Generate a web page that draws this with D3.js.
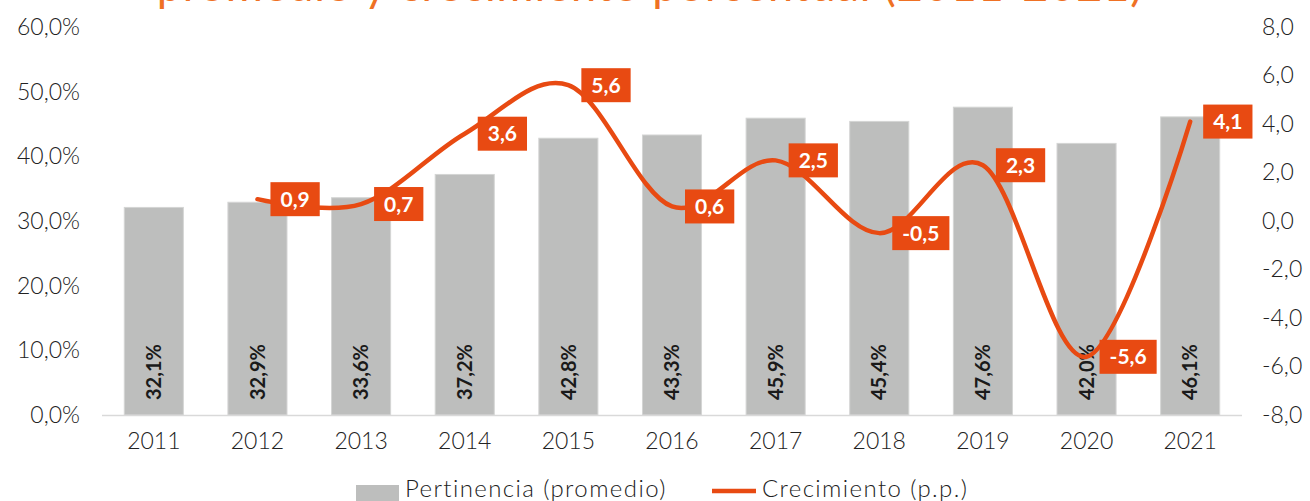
<!DOCTYPE html>
<html>
<head>
<meta charset="utf-8">
<script src="https://cdn.jsdelivr.net/npm/d3@7"></script>
<style>
  html, body { margin: 0; padding: 0; background: #fff; }
  svg { display: block; font-family: Lato, "Noto Sans", sans-serif; }
</style>
</head>
<body>
<svg id="chart" width="1310" height="501"></svg>
<script>
const titleText = "promedio y crecimiento porcentual (2011-2021)";
const years = ["2011","2012","2013","2014","2015","2016","2017","2018","2019","2020","2021"];
const pertinencia = [32.1, 32.9, 33.6, 37.2, 42.8, 43.3, 45.9, 45.4, 47.6, 42.0, 46.1];
const crecimiento = [null, 0.9, 0.7, 3.6, 5.6, 0.6, 2.5, -0.5, 2.3, -5.6, 4.1];
const leftTicks = [0, 10, 20, 30, 40, 50, 60];
const rightTicks = [-8, -6, -4, -2, 0, 2, 4, 6, 8];
const legendLabels = ["Pertinencia (promedio)", "Crecimiento (p.p.)"];

const BAR = "#bdbebd", ORANGE = "#e84a12", TITLE = "#ef7124";
const svg = d3.select("#chart");
const L = 102, R = 1242, T = 27, B = 415;

const fmt1 = v => v.toFixed(1).replace(".", ",");

const x = d3.scaleBand().domain(years).range([L, R]).paddingInner(0.43).paddingOuter(0.215);
const yL = d3.scaleLinear().domain([0, 60]).range([B, T]);
const yR = d3.scaleLinear().domain([-8, 8]).range([B, T]);

// title (cut off at top, as in the reference)
svg.append("text").attr("x", 650).attr("y", 1).attr("text-anchor", "middle")
  .attr("font-size", 45).attr("font-weight", 400).attr("fill", TITLE)
  .attr("letter-spacing", 0.9).text(titleText);

// bars
svg.append("g").selectAll("rect").data(years).join("rect")
  .attr("x", d => x(d)).attr("width", x.bandwidth())
  .attr("y", (d, i) => yL(pertinencia[i]))
  .attr("height", (d, i) => B - yL(pertinencia[i]))
  .attr("fill", BAR).attr("stroke", "#d4d5d4").attr("stroke-width", 1);

// x axis line
svg.append("line").attr("x1", L).attr("x2", R).attr("y1", B + 0.5).attr("y2", B + 0.5)
  .attr("stroke", "#d9d9d9").attr("stroke-width", 1.5);

// left axis
const gl = svg.append("g").attr("transform", `translate(${L - 22},0)`)
  .call(d3.axisLeft(yL).tickValues(leftTicks).tickSize(0).tickFormat(v => fmt1(v) + "%"));
gl.select(".domain").remove();
gl.selectAll("text").attr("font-size", 23).attr("font-weight", 300).attr("fill", "#222")
  .attr("font-family", "Lato").attr("x", 0).attr("text-anchor", "end");

// right axis
const gr = svg.append("g").attr("transform", `translate(${R + 20},0)`)
  .call(d3.axisRight(yR).tickValues(rightTicks).tickSize(0).tickFormat(fmt1));
gr.select(".domain").remove();
gr.selectAll("text").attr("font-size", 23).attr("font-weight", 300).attr("fill", "#222")
  .attr("font-family", "Lato").attr("x", 0);

// bottom axis labels
const gb = svg.append("g").attr("transform", `translate(0,${B})`)
  .call(d3.axisBottom(x).tickSize(0));
gb.select(".domain").remove();
gb.selectAll("text").attr("font-size", 23).attr("font-weight", 300).attr("fill", "#222")
  .attr("font-family", "Lato").attr("dy", "1.35em");

// bar value labels (rotated)
svg.append("g").selectAll("text").data(years).join("text")
  .attr("transform", d => `translate(${x(d) + x.bandwidth() / 2},${B - 15}) rotate(-90)`)
  .attr("dy", "0.36em").attr("text-anchor", "start")
  .attr("font-size", 20).attr("font-weight", 700).attr("fill", "#1a1a1a")
  .text((d, i) => fmt1(pertinencia[i]) + "%");

// line
const pts = years.map((d, i) => ({ year: d, v: crecimiento[i] })).filter(p => p.v !== null);
const cx = d => x(d.year) + x.bandwidth() / 2;
const line = d3.line().x(cx).y(d => yR(d.v)).curve(d3.curveCardinal.tension(0));
svg.append("path").datum(pts).attr("d", line).attr("fill", "none")
  .attr("stroke", ORANGE).attr("stroke-width", 4.5).attr("stroke-linecap", "round");

// line labels in boxes
const lg = svg.append("g").selectAll("g").data(pts).join("g")
  .attr("transform", d => `translate(${cx(d) + 13},${yR(d.v)})`);
lg.append("text").attr("x", 10).attr("dy", "0.36em")
  .attr("font-size", 21).attr("font-weight", 700).attr("fill", "#fff")
  .text(d => fmt1(d.v));
lg.each(function() {
  const g = d3.select(this);
  const w = g.select("text").node().getComputedTextLength();
  g.insert("rect", "text").attr("x", 0).attr("y", -17).attr("width", w + 20).attr("height", 34)
    .attr("fill", ORANGE);
});

// legend
const leg = svg.append("g");
leg.append("rect").attr("x", 356).attr("y", 485).attr("width", 43).attr("height", 16).attr("fill", BAR);
leg.append("text").attr("x", 405).attr("y", 497).attr("font-size", 24).attr("font-weight", 300)
  .attr("fill", "#222").attr("letter-spacing", 1.4).text(legendLabels[0]);
leg.append("line").attr("x1", 712).attr("x2", 756).attr("y1", 491).attr("y2", 491)
  .attr("stroke", ORANGE).attr("stroke-width", 4.5);
leg.append("text").attr("x", 762).attr("y", 497).attr("font-size", 24).attr("font-weight", 300)
  .attr("fill", "#222").attr("letter-spacing", 1.4).text(legendLabels[1]);
</script>
</body>
</html>
